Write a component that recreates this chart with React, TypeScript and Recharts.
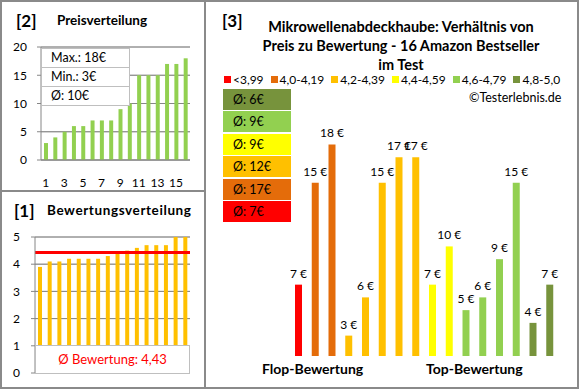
import { BarChart, Bar, XAxis, YAxis, CartesianGrid, Cell, LabelList, ReferenceLine } from "recharts";

// [2] Preisverteilung
const sortedPrices = [3, 4, 5, 6, 6, 7, 7, 7, 9, 10, 15, 15, 15, 17, 17, 18];
const priceTicks = [0, 5, 10, 15, 20];
const priceMinorTicks = [0, 1, 2, 3, 4, 5, 6, 7, 8, 9, 10, 11, 12, 13, 14, 15, 16, 17, 18, 19, 20];
const priceSummary = ["Max.: 18€", "Min.: 3€", "Ø: 10€"];

// [1] Bewertungsverteilung
const ratings = [3.9, 4.1, 4.1, 4.2, 4.2, 4.2, 4.2, 4.3, 4.4, 4.5, 4.6, 4.7, 4.7, 4.7, 5.0, 5.0];
const ratingTicks = [0, 1, 2, 3, 4, 5];
const ratingMinorTicks = [
  0, 0.2, 0.4, 0.6, 0.8, 1, 1.2, 1.4, 1.6, 1.8, 2, 2.2, 2.4, 2.6, 2.8, 3, 3.2, 3.4, 3.6, 3.8, 4, 4.2, 4.4, 4.6, 4.8, 5,
];
const avgRating = 4.43;

// [3] Preis zu Bewertung
const bestsellerPrices = [7, 15, 18, 3, 6, 15, 17, 17, 7, 10, 5, 6, 9, 15, 4, 7];
const bestsellerGroup = [0, 1, 1, 2, 2, 2, 2, 2, 3, 3, 4, 4, 4, 4, 5, 5];
const groupLabels = ["<3,99", "4,0-4,19", "4,2-4,39", "4,4-4,59", "4,6-4,79", "4,8-5,0"];
const groupColors = ["#FF0000", "#E46C0A", "#FFC000", "#FFFF00", "#92D050", "#77933C"];
const groupAverages = [7, 17, 12, 9, 9, 6];

const priceRows = sortedPrices.map((p, i) => ({ rank: String(i + 1), price: p }));
const ratingRows = ratings.map((r, i) => ({ rank: String(i + 1), rating: r }));
const bestsellerRows = bestsellerPrices.map((p, i) => ({ idx: String(i + 1), price: p, group: bestsellerGroup[i] }));

const minorGrid = "#b4b4b4";
const majorGrid = "#868686";
const frame = "#8a8a8a";

const abs = (left: number, top: number, extra: React.CSSProperties = {}): React.CSSProperties => ({
  position: "absolute",
  left,
  top,
  ...extra,
});

// label over each bar, kept on one line
const euroLabel = (props: any) => {
  const { x, y, width, value } = props;
  return (
    <text x={Number(x) + Number(width) / 2} y={Number(y) - 7} textAnchor="middle" fontSize={12} fill="#000">
      {`${value} €`}
    </text>
  );
};

export default function App() {
  return (
    <div
      style={{
        position: "absolute",
        left: 0,
        top: 0,
        width: 580,
        height: 390,
        background: "#fff",
        fontFamily: "Lato, 'Open Sans', sans-serif",
        color: "#000",
        overflow: "hidden",
      }}
    >
      {/* frames */}
      <div style={abs(0, 0, { width: 579, height: 389, border: `2px solid ${frame}`, boxSizing: "border-box" })} />
      <div style={abs(204, 0, { width: 2, height: 389, background: frame })} />
      <div style={abs(0, 190, { width: 205, height: 2, background: frame })} />

      {/* [2] Preisverteilung */}
      <div style={abs(16, 10, { fontSize: 17, fontWeight: 700 })}>[2]</div>
      <div style={abs(57, 12, { fontSize: 13.5, fontWeight: 700 })}>Preisverteilung</div>
      <div style={abs(0, 0)}>
        <BarChart width={200} height={190} data={priceRows} margin={{ top: 47, right: 10, bottom: 0, left: 0 }}>
          <CartesianGrid horizontalValues={priceMinorTicks} vertical={false} stroke={minorGrid} />
          <CartesianGrid vertical={false} stroke={majorGrid} />
          <XAxis
            dataKey="rank"
            height={30}
            interval={1}
            tickLine={false}
            axisLine={{ stroke: majorGrid }}
            tickMargin={12}
            tick={{ fontSize: 12, fill: "#000" }}
          />
          <YAxis
            width={41}
            domain={[0, 20]}
            ticks={priceTicks}
            tickSize={4}
            tickMargin={10}
            tickLine={{ stroke: majorGrid }}
            axisLine={{ stroke: majorGrid }}
            tick={{ fontSize: 12, fill: "#000" }}
          />
          <Bar dataKey="price" fill="#92D050" barSize={4} isAnimationActive={false} />
        </BarChart>
      </div>
      <div
        style={abs(41, 48, {
          width: 89,
          background: "#fff",
          border: "1px solid #bfbfbf",
          boxSizing: "border-box",
        })}
      >
        {priceSummary.map((t, i) => (
          <div
            key={t}
            style={{
              height: 18,
              lineHeight: "18px",
              fontSize: 12.5,
              paddingLeft: 9,
              borderTop: i ? "1px solid #bfbfbf" : "none",
            }}
          >
            {t}
          </div>
        ))}
      </div>

      {/* [1] Bewertungsverteilung */}
      <div style={abs(14, 200, { fontSize: 17, fontWeight: 700 })}>[1]</div>
      <div style={abs(47, 202, { fontSize: 13.5, fontWeight: 700, letterSpacing: 0.6 })}>Bewertungsverteilung</div>
      <div style={abs(0, 191)}>
        <BarChart width={200} height={197} data={ratingRows} margin={{ top: 46, right: 10, bottom: 15, left: 0 }}>
          <CartesianGrid horizontalValues={ratingMinorTicks} vertical={false} stroke={minorGrid} />
          <CartesianGrid vertical={false} stroke={majorGrid} />
          <XAxis dataKey="rank" hide />
          <YAxis
            width={35}
            domain={[0, 5]}
            ticks={ratingTicks}
            tickSize={4}
            tickMargin={11}
            tickLine={{ stroke: majorGrid }}
            axisLine={{ stroke: majorGrid }}
            tick={{ fontSize: 12, fill: "#000" }}
          />
          <Bar dataKey="rating" fill="#FFC000" barSize={4} isAnimationActive={false} />
          <ReferenceLine y={avgRating} stroke="#FF0000" strokeWidth={3} />
        </BarChart>
      </div>
      <div
        style={abs(35, 345, {
          width: 155,
          height: 29,
          background: "#fff",
          border: "1px solid #bfbfbf",
          boxSizing: "border-box",
          color: "#FF0000",
          fontSize: 13,
          lineHeight: "27px",
          textAlign: "center",
        })}
      >
        Ø Bewertung: {avgRating.toFixed(2).replace(".", ",")}
      </div>

      {/* [3] Preis zu Bewertung */}
      <div style={abs(222, 10, { fontSize: 17, fontWeight: 700 })}>[3]</div>
      <div
        style={abs(226, 17, {
          width: 350,
          textAlign: "center",
          fontSize: 14.5,
          fontWeight: 700,
          lineHeight: "19px",
        })}
      >
        Mikrowellenabdeckhaube: Verhältnis von
        <br />
        Preis zu Bewertung - 16 Amazon Bestseller
        <br />
        im Test
      </div>
      <div style={abs(224, 72, { display: "flex", alignItems: "center", fontSize: 12, whiteSpace: "nowrap" })}>
        {groupLabels.map((l, i) => (
          <div key={l} style={{ display: "flex", alignItems: "center", marginRight: 7 }}>
            <span style={{ width: 7, height: 7, background: groupColors[i], marginRight: 2 }} />
            {l}
          </div>
        ))}
      </div>
      <div style={abs(469, 90, { fontSize: 12.5 })}>©Testerlebnis.de</div>
      {groupAverages
        .map((a, i) => ({ a, c: groupColors[i] }))
        .reverse()
        .map((g, j) => (
          <div
            key={j}
            style={abs(223, 89 + j * 22.4, {
              width: 68,
              height: 21,
              background: g.c,
              fontSize: 12.5,
              lineHeight: "21px",
              paddingLeft: 10,
              boxSizing: "border-box",
            })}
          >
            Ø: {g.a}€
          </div>
        ))}
      <div style={abs(205, 0)}>
        <BarChart width={373} height={388} data={bestsellerRows} margin={{ top: 119, right: 20, bottom: 32, left: 85 }}>
          <XAxis dataKey="idx" hide />
          <YAxis hide domain={[1.4, 20]} />
          <Bar dataKey="price" barSize={7} isAnimationActive={false}>
            {bestsellerRows.map((r) => (
              <Cell key={r.idx} fill={groupColors[r.group]} />
            ))}
            <LabelList dataKey="price" content={euroLabel} />
          </Bar>
        </BarChart>
      </div>
      <div style={abs(262, 360, { fontSize: 14, fontWeight: 700 })}>Flop-Bewertung</div>
      <div style={abs(426, 360, { fontSize: 14, fontWeight: 700 })}>Top-Bewertung</div>
    </div>
  );
}
